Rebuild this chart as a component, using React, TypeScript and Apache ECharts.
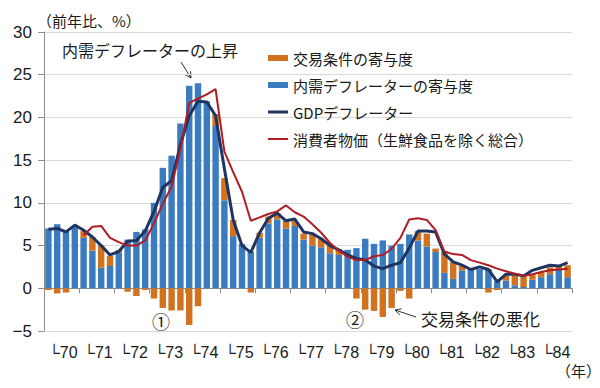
import React, { useEffect, useRef } from "react";
import * as echarts from "echarts";

const YEARS = ["70", "71", "72", "73", "74", "75", "76", "77", "78", "79", "80", "81", "82", "83", "84"];
const QUARTERS = ["Q1", "Q2", "Q3", "Q4"];

// 内需デフレーターの寄与度
const DOMESTIC = [
  7.0, 7.5, 6.7, 7.3,
  5.9, 4.4, 2.4, 2.6,
  4.2, 5.7, 6.6, 6.9,
  10.0, 14.1, 15.5, 19.3,
  23.7, 24.0, 21.9, 19.0,
  10.3, 6.1, 5.2, 4.3,
  5.9, 7.6, 8.05, 7.0,
  7.3, 5.7, 5.0, 4.8,
  4.1, 3.9, 4.5, 4.7,
  5.8, 5.2, 5.6, 5.0,
  5.2, 6.3, 5.6, 4.9,
  4.25, 1.8, 1.1, 2.1,
  2.25, 2.25, 2.25, 0.8,
  0.9, 0.35, 0.15, 1.0,
  1.3, 1.65, 2.15, 1.3,
];

// 交易条件の寄与度
const TERMS = [
  -0.2, -0.6, -0.5, 0,
  0.8, 1.6, 2.6, 1.2,
  0.3, -0.4, -0.9, -0.2,
  -1.2, -2.3, -2.6, -2.6,
  -4.3, -2.1, 0, 1.4,
  2.6, 1.9, 0, -0.5,
  0.6, 0.8, 0.75, 0.9,
  0.6, 0.7, 1.3, 1.0,
  1.0, 0.7, 0, -1.2,
  -2.5, -2.65, -3.35, -2.3,
  -0.3, -1.2, 1.1, 1.5,
  0.4, 2.5, 2.0, 0.5,
  0, 0, -0.5, -0.2,
  0.6, 1.15, 1.2, 0.65,
  0.6, 0.8, 0.45, 1.4,
];

// GDPデフレーター
const GDP = [
  6.9, 7.0, 6.6, 7.4,
  6.8, 6.0, 5.0, 3.9,
  4.3, 5.5, 5.6, 6.7,
  9.0, 11.8, 12.6, 16.8,
  20.2, 21.9, 21.8, 20.2,
  14.0, 8.0, 5.0, 4.2,
  6.5, 8.2, 8.8, 7.9,
  8.1, 6.6, 6.4, 5.8,
  5.0, 4.5, 3.9, 3.5,
  3.3, 2.6, 2.3, 2.7,
  3.0, 4.7, 6.7, 6.7,
  6.6, 4.0, 3.1, 2.7,
  2.2, 2.5, 2.2, 0.75,
  1.65, 1.65, 1.45, 2.1,
  2.4, 2.7, 2.6, 3.0,
];

// 消費者物価（生鮮食品を除く総合）
const CPI = [
  null, null, null, null,
  6.2, 7.2, 7.3, 5.9,
  5.4, 5.0, 5.0, 5.6,
  7.6, 9.9, 11.9, 16.3,
  21.7, 22.2, 22.7, 23.3,
  16.0, 13.6, 11.3, 7.9,
  8.3, 8.7, 9.0, 9.7,
  8.9, 8.4, 7.5, 6.5,
  5.3, 4.4, 3.7, 3.3,
  3.3, 3.75, 3.9, 4.6,
  5.9, 8.05, 8.2, 8.0,
  6.8, 4.3, 4.0, 3.9,
  3.3, 3.0, 2.7, 2.3,
  2.0, 1.7, 1.45, 1.65,
  1.9, 2.1, 2.2, 2.3,
];

const Y_MIN = -5;
const Y_MAX = 30;
const Y_STEP = 5;

const NAME_TERMS = "交易条件の寄与度";
const NAME_DOMESTIC = "内需デフレーターの寄与度";
const NAME_GDP = "GDPデフレーター";
const NAME_CPI = "消費者物価（生鮮食品を除く総合）";

const JP = "'Noto Sans CJK JP', 'Noto Sans', sans-serif";
const NUM = "'Liberation Sans', Arial, 'DejaVu Sans', sans-serif";
const TXT = "#1a1a1a";

function arrow(x1: number, y1: number, x2: number, y2: number, color: string) {
  const dx = x2 - x1;
  const dy = y2 - y1;
  const len = Math.sqrt(dx * dx + dy * dy);
  const ux = dx / len;
  const uy = dy / len;
  const hl = 6;
  const hw = 3.2;
  const bx = x2 - ux * hl;
  const by = y2 - uy * hl;
  const px = -uy;
  const py = ux;
  return [
    { type: "line", shape: { x1, y1, x2, y2 }, style: { stroke: color, lineWidth: 1 } },
    {
      type: "polyline",
      shape: { points: [[bx + px * hw, by + py * hw], [x2, y2], [bx - px * hw, by - py * hw]] },
      style: { stroke: color, lineWidth: 1, fill: null },
    },
  ];
}

export default function App() {
  const ref = useRef<HTMLDivElement>(null);

  useEffect(() => {
    if (!ref.current) return;
    const chart = echarts.init(ref.current, null, { renderer: "svg" });
    const categories = YEARS.flatMap((y) => QUARTERS.map((q) => y + q));

    chart.setOption({
      animation: false,
      backgroundColor: "#ffffff",
      grid: { left: 44, right: 28, top: 32, bottom: 57, containLabel: false, outerBoundsMode: "none" },
      legend: {
        orient: "vertical",
        left: 268,
        top: 50,
        padding: 0,
        itemWidth: 20,
        itemHeight: 6,
        itemGap: 11,
        selectedMode: false,
        textStyle: { fontFamily: JP, fontSize: 15, color: TXT, lineHeight: 16 },
        data: [
          { name: NAME_TERMS, icon: "rect" },
          { name: NAME_DOMESTIC, icon: "rect" },
          { name: NAME_GDP, icon: "path://M0,0M20,6M0,1.5H20V4.5H0Z" },
          { name: NAME_CPI, icon: "path://M0,0M20,6M0,2H20V4H0Z" },
        ],
      },
      xAxis: {
        type: "category",
        data: categories,
        boundaryGap: true,
        axisLine: { onZero: true, lineStyle: { color: "#8c8c8c", width: 1 } },
        axisTick: { show: true, interval: 3, length: 5, lineStyle: { color: "#8c8c8c" } },
        axisLabel: {
          interval: 3,
          margin: 13,
          align: "left",
          fontFamily: NUM,
          fontSize: 16,
          color: TXT,
          formatter: (v: string) => "└" + v.slice(0, 2),
        },
        splitLine: { show: false },
      },
      yAxis: {
        type: "value",
        min: Y_MIN,
        max: Y_MAX,
        interval: Y_STEP,
        axisLine: { show: true, lineStyle: { color: "#8c8c8c", width: 1 } },
        axisTick: { show: true, length: 6, lineStyle: { color: "#8c8c8c" } },
        axisLabel: {
          margin: 12,
          fontFamily: NUM,
          fontSize: 17,
          color: TXT,
          formatter: (v: number) => (v < 0 ? "\u2212" + Math.abs(v) : String(v)),
        },
        splitLine: { show: true, lineStyle: { color: "#d9d9d9", width: 1 } },
      },
      series: [
        {
          name: NAME_DOMESTIC,
          type: "bar",
          stack: "contrib",
          data: DOMESTIC,
          barCategoryGap: "27%",
          itemStyle: { color: "#3b7cc1" },
        },
        {
          name: NAME_TERMS,
          type: "bar",
          stack: "contrib",
          data: TERMS,
          itemStyle: { color: "#d2721f" },
        },
        {
          name: NAME_GDP,
          type: "line",
          data: GDP,
          symbol: "none",
          lineStyle: { color: "#1f3461", width: 3 },
          itemStyle: { color: "#1f3461" },
        },
        {
          name: NAME_CPI,
          type: "line",
          data: CPI,
          symbol: "none",
          connectNulls: false,
          lineStyle: { color: "#b01c24", width: 2 },
          itemStyle: { color: "#b01c24" },
        },
      ],
      graphic: [
        {
          type: "text",
          left: 37,
          top: 13,
          style: { text: "（前年比、%）", fontFamily: JP, fontSize: 15, fill: TXT },
        },
        {
          type: "text",
          left: 62,
          top: 42,
          style: { text: "内需デフレーターの上昇", fontFamily: JP, fontSize: 16, fill: TXT },
        },
        ...arrow(181, 62, 191, 78, "#333333"),
        {
          type: "text",
          left: 152,
          top: 312,
          style: { text: "①", fontFamily: JP, fontSize: 18, fill: TXT },
        },
        {
          type: "text",
          left: 346,
          top: 310,
          style: { text: "②", fontFamily: JP, fontSize: 18, fill: TXT },
        },
        ...arrow(416, 317, 395, 310, "#333333"),
        {
          type: "text",
          left: 421,
          top: 310,
          style: { text: "交易条件の悪化", fontFamily: JP, fontSize: 17, fill: TXT },
        },
        {
          type: "text",
          left: 556,
          top: 363,
          style: { text: "（年）", fontFamily: JP, fontSize: 15, lineHeight: 15, fill: TXT },
        },
      ],
    });

    return () => chart.dispose();
  }, []);

  return (
    <div
      ref={ref}
      style={{ position: "fixed", left: 0, top: 0, width: 600, height: 388, background: "#fff" }}
    />
  );
}
